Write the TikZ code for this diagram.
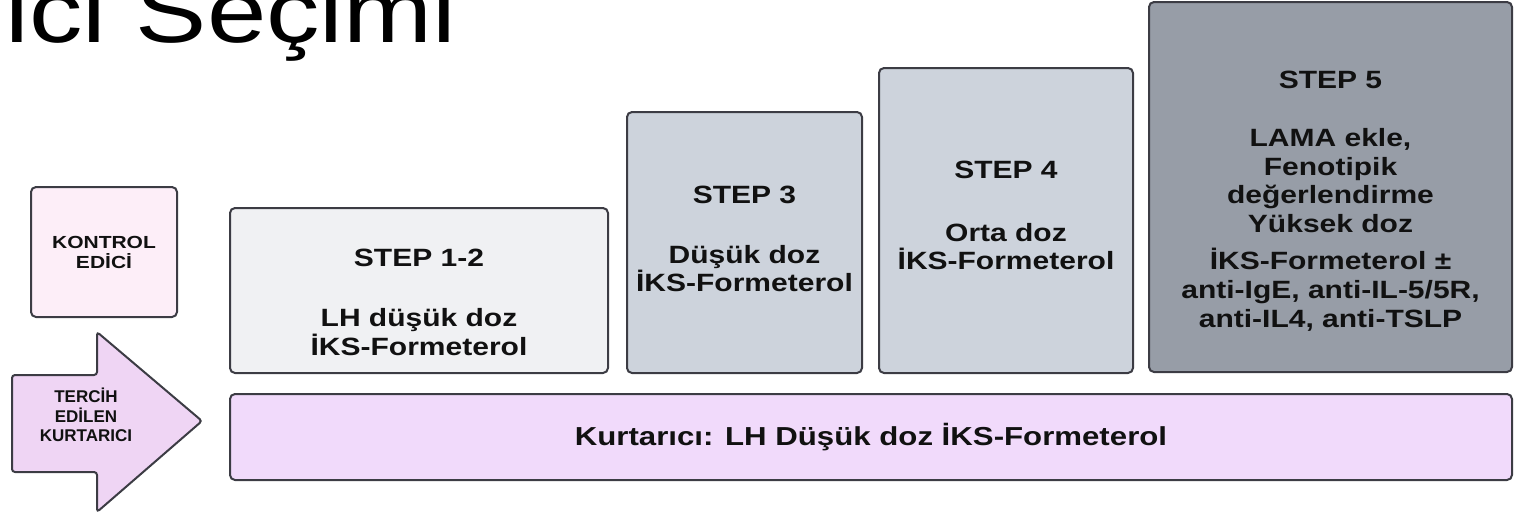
\documentclass[tikz,border=0pt]{standalone}
\usepackage{fontspec}
\setmainfont{Liberation Sans}
\newfontfamily\widesans{Liberation Sans}[FakeStretch=1.2]
\usepackage{tikz}

\definecolor{edge}{HTML}{3C3C44}
\definecolor{ink}{HTML}{111111}
\definecolor{pinkfill}{HTML}{FDEEF8}
\definecolor{arrowfill}{HTML}{EFD5F4}
\definecolor{barfill}{HTML}{F1DAFB}
\definecolor{lightstep}{HTML}{F0F1F3}
\definecolor{midstep}{HTML}{CDD3DC}
\definecolor{darkstep}{HTML}{979DA7}

\begin{document}
\begin{tikzpicture}[x=0.5pt, y=-0.5pt,
    box/.style={draw=edge, line width=1pt, rounded corners=2.5pt, inner sep=0pt},
    steptext/.style={font=\widesans\bfseries\fontsize{12.5}{14.4}\selectfont, align=center, inner sep=0pt, text=ink},
    smalltext/.style={font=\widesans\bfseries\fontsize{8.75}{10}\selectfont, align=center, inner sep=0pt, text=ink}]

    \path[use as bounding box] (0, 0) rectangle (1516, 515);
    \clip (0, 0) rectangle (1516, 515);

    \node[anchor=base west, inner sep=0pt, font=\widesans\fontsize{44.5}{50}\selectfont] (baslik) at (5, 42) {ici Seçimi};

    \node[box, fill=pinkfill, minimum width=73pt, minimum height=65pt, smalltext] (kontrol) at (104, 252) {KONTROL\\EDİCİ};

    \draw[draw=edge, line width=1pt, fill=arrowfill, rounded corners=1.5pt] (12, 375) -- (97, 375) -- (97, 332) -- (202, 421) -- (97, 512) -- (97, 472) -- (12, 472) -- cycle;
    \node[font=\bfseries\fontsize{8.5}{9.75}\selectfont, align=center, inner sep=0pt, text=ink] (tercih) at (86, 415) {TERCİH\\EDİLEN\\KURTARICI};

    \node[box, fill=lightstep, minimum width=189pt, minimum height=82.5pt] (s12) at (419, 290.5) {};
    \node[box, fill=midstep, minimum width=117.5pt, minimum height=130.5pt] (s3) at (744.5, 242.5) {};
    \node[box, fill=midstep, minimum width=127pt, minimum height=152.5pt] (s4) at (1006, 220.5) {};
    \node[box, fill=darkstep, minimum width=181.5pt, minimum height=185pt] (s5) at (1330.5, 187) {};

    \node[steptext] (t12) at (419, 302.5) {STEP 1-2\\[15.5pt]LH düşük doz\\İKS-Formeterol};
    \node[steptext] (t3) at (744.5, 239) {STEP 3\\[15.5pt]Düşük doz\\İKS-Formeterol};
    \node[steptext] (t4) at (1006, 215.5) {STEP 4\\[17pt]Orta doz\\İKS-Formeterol};
    \node[steptext] (t5) at (1330.5, 201) {STEP 5\\[14.5pt]LAMA ekle,\\Fenotipik\\değerlendirme\\Yüksek doz\\[4pt]İKS-Formeterol ±\\anti-IgE, anti-IL-5/5R,\\anti-IL4, anti-TSLP};

    \node[box, fill=barfill, minimum width=641pt, minimum height=43pt, steptext, font=\widesans\bfseries\fontsize{13}{15}\selectfont] (kurt) at (871, 437) {Kurtarıcı: LH Düşük doz İKS-Formeterol};

\end{tikzpicture}
\end{document}
